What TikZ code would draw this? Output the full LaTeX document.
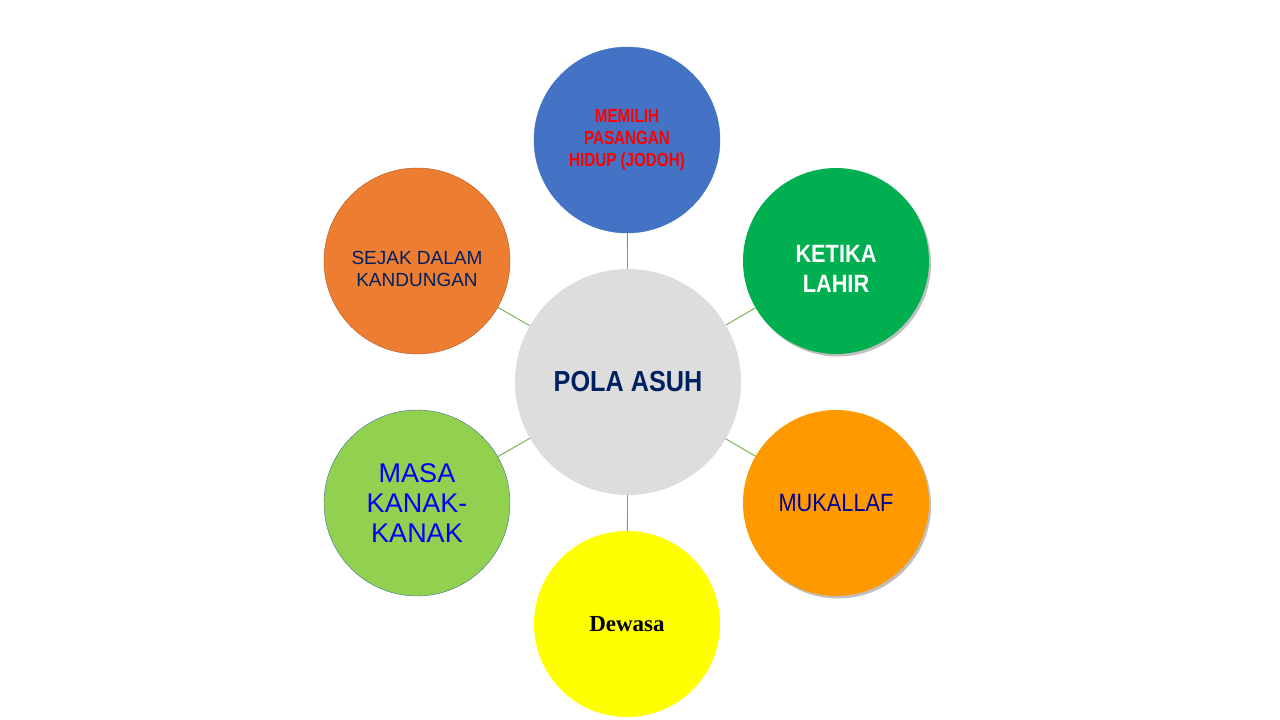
\documentclass[tikz,border=0pt]{standalone}
\usepackage{fontspec}
\setmainfont{Liberation Sans}
\newfontfamily\narrowfont[FakeStretch=0.80]{Liberation Sans}
\newfontfamily\condfont[FakeStretch=0.87]{Liberation Sans}
\newfontfamily\serifbold{Liberation Serif}
\usetikzlibrary{shadows}
\definecolor{jodohblue}{HTML}{4472C4}
\definecolor{kandungan}{HTML}{ED7D31}
\definecolor{kandunganedge}{HTML}{AE5A21}
\definecolor{lahirgreen}{HTML}{00B050}
\definecolor{mukallaf}{HTML}{FF9900}
\definecolor{kanakgreen}{HTML}{92D050}
\definecolor{kanakedge}{HTML}{41719C}
\definecolor{dewasayellow}{HTML}{FFFF00}
\definecolor{hubgray}{HTML}{DDDDDD}
\definecolor{linkgreen}{HTML}{70AD47}
\definecolor{navytext}{HTML}{002060}
\definecolor{darkblue}{HTML}{000099}
\definecolor{puretext}{HTML}{0000FF}
\definecolor{redtext}{HTML}{FF0000}
\tikzset{
    stage-circle/.style = {circle, minimum size=186pt, inner sep=0pt, align=center},
    hub-circle/.style = {circle, fill=hubgray, minimum size=226pt, inner sep=0pt, align=center},
    low-text/.style = {align=center, inner sep=0pt, yshift=-8pt},
    link-line/.style = {draw=linkgreen, line width=0.9pt},
    soft-shadow/.style = {drop shadow={shadow xshift=2pt, shadow yshift=-2.5pt, opacity=0.25, fill=black}},
}
\begin{document}
\begin{tikzpicture}[x=1pt, y=-1pt]
\useasboundingbox (0,0) rectangle (1280,720);
\node [hub-circle, text=navytext, font=\condfont\bfseries\fontsize{29}{32}\selectfont] (hub) at (628,382) {POLA ASUH};
\node [stage-circle, fill=jodohblue, draw=jodohblue, text=redtext, font=\narrowfont\bfseries\fontsize{19}{22}\selectfont] (jodoh) at (627,140)
    {MEMILIH\\PASANGAN\\HIDUP (JODOH)};
\node [stage-circle, fill=lahirgreen, soft-shadow,
    label={[low-text, text=white, font=\condfont\bfseries\fontsize{25}{30}\selectfont]center:{KETIKA\\LAHIR}}] (lahir) at (836,261) {};
\node [stage-circle, fill=mukallaf, soft-shadow, text=darkblue, font=\condfont\fontsize{25}{30}\selectfont] (baligh) at (836,503)
    {MUKALLAF};
\node [stage-circle, fill=dewasayellow, text=black, font=\serifbold\bfseries\fontsize{23}{26}\selectfont] (dewasa) at (627,624)
    {Dewasa};
\node [stage-circle, fill=kanakgreen, draw=kanakedge, thin, text=puretext, font=\fontsize{27}{30}\selectfont] (kanak) at (417,503)
    {MASA\\KANAK-\\KANAK};
\node [stage-circle, fill=kandungan, draw=kandunganedge, thin,
    label={[low-text, text=navytext, font=\fontsize{19}{22}\selectfont]center:{SEJAK DALAM\\KANDUNGAN}}] (rahim) at (417,261) {};
% garis penghubung
\foreach \stage in {jodoh, lahir, baligh, dewasa, kanak, rahim}
    \draw [link-line] (hub) -- (\stage);
\end{tikzpicture}
\end{document}
